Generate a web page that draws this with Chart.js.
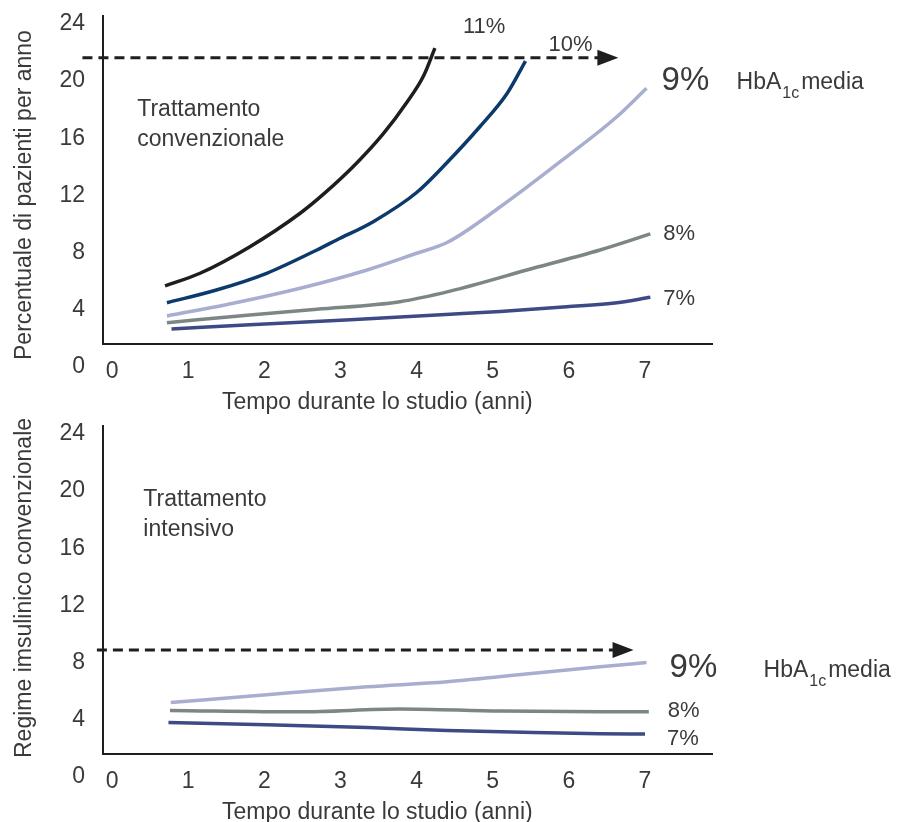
<!DOCTYPE html>
<html>
<head>
<meta charset="utf-8">
<script src="https://cdn.jsdelivr.net/npm/chart.js@4.4.1/dist/chart.umd.min.js"></script>
<style>
  html, body { margin: 0; padding: 0; background: #fff; }
  #wrap { position: relative; width: 899px; height: 822px; overflow: hidden; }
  canvas { position: absolute; left: 0; }
  #top-chart { top: 0; }
  #bottom-chart { top: 410px; }
</style>
</head>
<body>
<div id="wrap">
  <canvas id="top-chart" width="899" height="420"></canvas>
  <canvas id="bottom-chart" width="899" height="412"></canvas>
</div>
<script>
/**
 * Data
 */
const xTicks = [0, 1, 2, 3, 4, 5, 6, 7];
const yTicks = [0, 4, 8, 12, 16, 20, 24];

// conventional treatment
const convYears11 = [0.695, 1.155, 1.81, 2.47, 2.78, 3.21, 3.56, 3.87, 4.09, 4.24];
const convRate11  = [5.66, 6.55, 8.41, 10.75, 12.1, 14.25, 16.3, 18.5, 20.35, 22.3];
const convYears10 = [0.72, 1.37, 2.03, 2.69, 2.95, 3.43, 4.0, 4.40, 4.83, 5.19, 5.43];
const convRate10  = [4.49, 5.38, 6.55, 8.18, 8.88, 10.16, 12.2, 14.3, 16.8, 19.15, 21.4];
const convYears9  = [0.72, 1.59, 2.47, 3.35, 4.0, 4.4, 5.10, 5.97, 6.63, 7.02];
const convRate9   = [3.56, 4.45, 5.5, 6.78, 7.95, 8.7, 11.2, 14.7, 17.5, 19.5];
const convYears8  = [0.72, 1.81, 2.69, 3.78, 4.44, 5.53, 6.41, 7.07];
const convRate8   = [3.09, 3.63, 4.03, 4.56, 5.3, 6.9, 8.18, 9.3];
const convYears7  = [0.78, 1.81, 3.13, 4.44, 5.10, 5.97, 6.63, 7.07];
const convRate7   = [2.65, 2.95, 3.3, 3.68, 3.88, 4.2, 4.48, 4.87];

// intensive treatment
const intYears9 = [0.77, 2.03, 3.35, 4.40, 5.54, 6.41, 7.02];
const intRate9  = [5.2, 5.75, 6.3, 6.65, 7.25, 7.7, 8.0];
const intYears8 = [0.76, 2.47, 3.78, 5.10, 7.05];
const intRate8  = [4.65, 4.55, 4.75, 4.6, 4.55];
const intYears7 = [0.74, 2.03, 3.35, 4.40, 5.54, 6.41, 7.00];
const intRate7  = [3.8, 3.65, 3.45, 3.25, 3.1, 3.02, 3.0];

const FONT = '"Liberation Sans", Arial, Helvetica, sans-serif';
const TEXT = '#3a3a3a';
const INK = '#1e1e1e';
const COLORS = {
    a11: '#1e1e1e',
    a10: '#0b3a6b',
    a9: '#a8aed0',
    a8: '#7c8785',
    a7: '#3d4a85'
};

function series(label, years, rates, color) {
    return {
        label: label,
        data: years.map((year, i) => ({ x: year, y: rates[i] })),
        borderColor: color,
        borderWidth: 3.5,
        pointRadius: 0,
        fill: false,
        cubicInterpolationMode: 'monotone'
    };
}

/**
 * Notes plugin: dashed arrow, labels, axis titles
 */
function notesPlugin(notes) {
    return {
        id: 'notes',
        afterDatasetsDraw(chart) {
            const ctx = chart.ctx;
            const x = chart.scales.x;
            const y = chart.scales.y;
            ctx.save();

            // dashed arrow
            const ay = y.getPixelForValue(notes.arrowLevel);
            const ax0 = x.getPixelForValue(notes.arrowFrom);
            const ax1 = x.getPixelForValue(notes.arrowTo);
            ctx.strokeStyle = INK;
            ctx.lineWidth = 3;
            ctx.setLineDash([10, 6]);
            ctx.beginPath();
            ctx.moveTo(ax0, ay);
            ctx.lineTo(ax1 - 18, ay);
            ctx.stroke();
            ctx.setLineDash([]);
            ctx.fillStyle = INK;
            ctx.beginPath();
            ctx.moveTo(ax1, ay);
            ctx.lineTo(ax1 - 21, ay - 8);
            ctx.lineTo(ax1 - 21, ay + 8);
            ctx.closePath();
            ctx.fill();

            ctx.fillStyle = TEXT;
            ctx.textBaseline = 'alphabetic';
            ctx.textAlign = 'left';

            // treatment box text
            const bx = x.getPixelForValue(notes.boxAt[0]);
            const by = y.getPixelForValue(notes.boxAt[1]);
            ctx.font = '23px ' + FONT;
            notes.boxLines.forEach((line, i) => ctx.fillText(line, bx, by + i * 30));

            // series end labels
            for (const lab of notes.endLabels) {
                const pts = chart.getDatasetMeta(lab.dataset).data;
                const end = pts[pts.length - 1];
                ctx.font = lab.size + 'px ' + FONT;
                ctx.fillText(lab.text, end.x + lab.dx, end.y + lab.dy);
            }

            // HbA1c media
            {
                const pts = chart.getDatasetMeta(notes.hba.dataset).data;
                const end = pts[pts.length - 1];
                let hx = end.x + notes.hba.dx;
                const hy = end.y + notes.hba.dy;
                ctx.font = '23px ' + FONT;
                ctx.fillText('HbA', hx, hy);
                hx += ctx.measureText('HbA').width + 1;
                ctx.font = '16px ' + FONT;
                ctx.fillText('1c', hx, hy + 9);
                hx += ctx.measureText('1c').width + 2;
                ctx.font = '23px ' + FONT;
                ctx.fillText('media', hx, hy);
            }

            // axis titles
            ctx.font = '23px ' + FONT;
            ctx.fillText('Tempo durante lo studio (anni)', notes.xTitle[0], notes.xTitle[1]);
            ctx.translate(31, notes.yTitleStart);
            ctx.rotate(-Math.PI / 2);
            ctx.fillText(notes.yTitle, 0, 0);

            ctx.restore();
        }
    };
}

function makeChart(canvasId, datasets, notes, padBottom) {
    const ctx = document.getElementById(canvasId);
    const tickFont = { family: FONT, size: 23 };
    return new Chart(ctx, {
        type: 'line',
        data: { datasets: datasets },
        options: {
            responsive: false,
            animation: false,
            devicePixelRatio: 1,
            layout: { padding: { top: 16, right: 187, bottom: padBottom, left: 0 } },
            plugins: {
                legend: { display: false },
                tooltip: { enabled: false }
            },
            scales: {
                x: {
                    type: 'linear',
                    min: -0.12,
                    max: 7.88,
                    border: { display: true, color: INK, width: 2 },
                    grid: { display: false, drawTicks: false },
                    afterBuildTicks: (s) => { s.ticks = xTicks.map(v => ({ value: v })); },
                    afterFit: (s) => {
                        s.height = 66;
                        s.paddingLeft = 0;
                        s.paddingRight = 0;
                    },
                    ticks: { autoSkip: false, maxRotation: 0, padding: 14, color: TEXT, font: tickFont }
                },
                y: {
                    type: 'linear',
                    min: 1.6,
                    max: 24.55,
                    border: { display: true, color: INK, width: 2 },
                    grid: { display: false, drawTicks: false },
                    afterBuildTicks: (s) => { s.ticks = yTicks.map(v => ({ value: v })); },
                    afterFit: (s) => {
                        s.width = 103;
                        s.paddingTop = 0;
                        s.paddingBottom = 0;
                    },
                    ticks: { autoSkip: false, padding: 18, color: TEXT, font: tickFont }
                }
            }
        },
        plugins: [notesPlugin(notes)]
    });
}

const topChart = makeChart('top-chart', [
    series('11%', convYears11, convRate11, COLORS.a11),
    series('10%', convYears10, convRate10, COLORS.a10),
    series('9%', convYears9, convRate9, COLORS.a9),
    series('8%', convYears8, convRate8, COLORS.a8),
    series('7%', convYears7, convRate7, COLORS.a7)
], {
    arrowLevel: 21.63, arrowFrom: -0.39, arrowTo: 6.65,
    boxAt: [0.33, 17.55], boxLines: ['Trattamento', 'convenzionale'],
    endLabels: [
        { dataset: 0, text: '11%', size: 22, dx: 28, dy: -15 },
        { dataset: 1, text: '10%', size: 22, dx: 23, dy: -10 },
        { dataset: 2, text: '9%', size: 33, dx: 15, dy: 2 },
        { dataset: 3, text: '8%', size: 22, dx: 13, dy: 6 },
        { dataset: 4, text: '7%', size: 22, dx: 13, dy: 8 }
    ],
    hba: { dataset: 2, dx: 90, dy: 1 },
    xTitle: [222, 409],
    yTitle: 'Percentuale di pazienti per anno', yTitleStart: 360
}, 10);

const bottomChart = makeChart('bottom-chart', [
    series('9%', intYears9, intRate9, COLORS.a9),
    series('8%', intYears8, intRate8, COLORS.a8),
    series('7%', intYears7, intRate7, COLORS.a7)
], {
    arrowLevel: 8.88, arrowFrom: -0.2, arrowTo: 6.85,
    boxAt: [0.41, 18.95], boxLines: ['Trattamento', 'intensivo'],
    endLabels: [
        { dataset: 0, text: '9%', size: 33, dx: 23, dy: 14 },
        { dataset: 1, text: '8%', size: 22, dx: 19, dy: 5 },
        { dataset: 2, text: '7%', size: 22, dx: 22, dy: 11 }
    ],
    hba: { dataset: 0, dx: 117, dy: 14 },
    xTitle: [222, 409],
    yTitle: 'Regime imsulinico convenzionale', yTitleStart: 348
}, 2);
</script>
</body>
</html>
